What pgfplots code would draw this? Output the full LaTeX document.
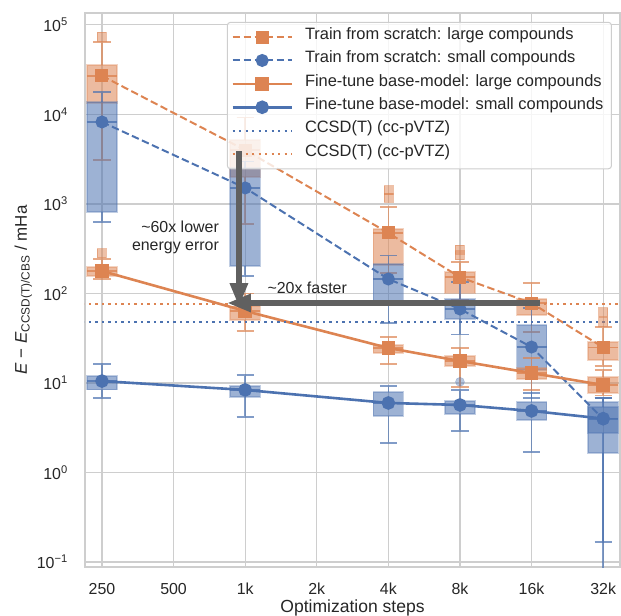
\documentclass[border=0pt]{standalone}
\usepackage{fontspec}
\setmainfont{Liberation Sans}
\usepackage{pgfplots}
\pgfplotsset{compat=1.18}
\usepgfplotslibrary{statistics}
\usetikzlibrary{arrows.meta}
\definecolor{cblue}{RGB}{76,114,176}
\definecolor{corange}{RGB}{221,132,82}
\definecolor{gridgray}{RGB}{206,206,206}
\definecolor{arrgray}{RGB}{96,96,96}
\definecolor{txt}{RGB}{38,38,38}

\pgfplotsset{
  bx/.style={forget plot, solid, boxplot/draw direction=y,
    boxplot/box extend=0.42, boxplot/whisker extend=0.24,
    boxplot/every box/.style={draw=#1, draw opacity=0.35, fill=#1, fill opacity=0.55, line width=1.4bp},
    boxplot/every whisker/.style={draw=#1, draw opacity=0.7, line width=1.5bp},
    boxplot/every median/.style={draw=#1, draw opacity=0.8, line width=1.5bp}},
  bxo/.style={bx=corange},
  bxb/.style={bx=cblue},
  outo/.style={forget plot, only marks, color=corange, mark=square*, mark size=4.5bp,
    mark options={draw=corange, fill=corange, opacity=0.5}},
  outb/.style={forget plot, only marks, color=cblue, mark=*, mark size=4.5bp,
    mark options={draw=cblue, fill=cblue, opacity=0.4}},
}

\begin{document}
\begin{tikzpicture}[font=\fontsize{16}{18}\selectfont]
\begin{axis}[
    scale only axis,
    width=535bp, height=554bp,
    xmin=-0.237, xmax=7.235,
    ymode=log, ymin=0.0879, ymax=1.36e5,
    xtick={0,1,2,3,4,5,6,7},
    xticklabels={250,500,1k,2k,4k,8k,16k,32k},
    ytick={0.1,1,10,100,1000,10000,100000},
    yticklabels={10\textsuperscript{−1},10\textsuperscript{0},10\textsuperscript{1},10\textsuperscript{2},10\textsuperscript{3},10\textsuperscript{4},10\textsuperscript{5}},
    major tick length=0pt, minor tick length=0pt,
    grid=major,
    major grid style={gridgray, line width=1.1bp},
    axis line style={gridgray, line width=1.3bp},
    tick label style={text=txt},
    xticklabel style={anchor=base, yshift=-27bp},
    yticklabel style={anchor=east, inner xsep=0pt, xshift=-17bp},
    xlabel={Optimization steps},
    ylabel={\textit{E} − \textit{E}\textsubscript{CCSD(T)/CBS} / mHa},
    every axis x label/.style={at={(rel axis cs:0.5,0)}, anchor=base, yshift=-45.5bp, text=txt,
      font=\fontsize{17.6}{20}\selectfont},
    every axis y label/.style={at={(rel axis cs:0,0.5)}, xshift=-58bp, rotate=90, anchor=base, text=txt,
      font=\fontsize{17}{20}\selectfont},
    legend cell align=left,
    legend style={at={(rel axis cs:0.985,0.984)}, anchor=north east,
      draw=gridgray, line width=1bp, rounded corners=3bp,
      fill=white, fill opacity=0.8, text opacity=1, draw opacity=1, text=txt,
      font=\fontsize{16.5}{18}\selectfont,
      inner xsep=4bp, inner ysep=3bp, row sep=0bp,
      nodes={inner ysep=0bp, inner xsep=4bp, text height=14bp, text depth=9.4bp}},
    legend image post style={fill opacity=1, draw opacity=1},
    legend image code/.code={\draw[mark repeat=2,mark phase=2,#1] plot coordinates {(0bp,0bp) (29.5bp,0bp) (59bp,0bp)};
      \path (67bp,0bp);},
]
% train from scratch, large compounds
\addplot[bxo, boxplot prepared={draw position=0, lower whisker=3100, lower quartile=13400, median=27000, upper quartile=35700, upper whisker=64900}] coordinates {};
\addplot[bxo, boxplot prepared={draw position=2, lower whisker=600, lower quartile=2000, median=4000, upper quartile=5190, upper whisker=9300}] coordinates {};
\addplot[bxo, boxplot prepared={draw position=4, lower whisker=170, lower quartile=208, median=474, upper quartile=525, upper whisker=925}] coordinates {};
\addplot[bxo, boxplot prepared={draw position=5, lower whisker=85, lower quartile=100, median=152, upper quartile=174, upper whisker=226}] coordinates {};
\addplot[bxo, boxplot prepared={draw position=6, lower whisker=37, lower quartile=57.6, median=78, upper quartile=87, upper whisker=131}] coordinates {};
\addplot[bxo, boxplot prepared={draw position=7, lower whisker=15.5, lower quartile=18.1, median=25, upper quartile=28.7, upper whisker=42}] coordinates {};
\addplot[outo] coordinates {(0,73500) (4,1170) (4,1430) (5,269) (5,306) (7,48) (7,62)};
% train from scratch, small compounds
\addplot[bxb, boxplot prepared={draw position=0, lower whisker=630, lower quartile=815, median=8240, upper quartile=13800, upper whisker=17800}] coordinates {};
\addplot[bxb, boxplot prepared={draw position=2, lower whisker=157, lower quartile=203, median=1510, upper quartile=2520, upper whisker=3000}] coordinates {};
\addplot[bxb, boxplot prepared={draw position=4, lower whisker=46.8, lower quartile=80, median=145, upper quartile=214, upper whisker=264}] coordinates {};
\addplot[bxb, boxplot prepared={draw position=5, lower whisker=35, lower quartile=52, median=67, upper quartile=87, upper whisker=135}] coordinates {};
\addplot[bxb, boxplot prepared={draw position=6, lower whisker=6.8, lower quartile=14, median=25.2, upper quartile=44.5, upper whisker=69}] coordinates {};
\addplot[bxb, boxplot prepared={draw position=7, lower whisker=0.08, lower quartile=2.76, median=3.96, upper quartile=6.14, upper whisker=6.8}] coordinates {};
% fine-tune, large compounds
\addplot[bxo, boxplot prepared={draw position=0, lower whisker=145, lower quartile=157, median=178, upper quartile=198, upper whisker=243}] coordinates {};
\addplot[bxo, boxplot prepared={draw position=2, lower whisker=38, lower quartile=50.6, median=63.7, upper quartile=72, upper whisker=100}] coordinates {};
\addplot[bxo, boxplot prepared={draw position=4, lower whisker=16.3, lower quartile=21.6, median=24.6, upper quartile=26.6, upper whisker=32.7}] coordinates {};
\addplot[bxo, boxplot prepared={draw position=5, lower whisker=9.0, lower quartile=15.5, median=17.6, upper quartile=20, upper whisker=24.5}] coordinates {};
\addplot[bxo, boxplot prepared={draw position=6, lower whisker=8.3, lower quartile=11.1, median=12.9, upper quartile=14.7, upper whisker=19}] coordinates {};
\addplot[bxo, boxplot prepared={draw position=7, lower whisker=7.2, lower quartile=7.7, median=9.5, upper quartile=11.7, upper whisker=14}] coordinates {};
\addplot[outo] coordinates {(0,283)};
% fine-tune, small compounds
\addplot[bxb, boxplot prepared={draw position=0, lower whisker=6.8, lower quartile=8.4, median=10.5, upper quartile=12, upper whisker=16.3}] coordinates {};
\addplot[bxb, boxplot prepared={draw position=2, lower whisker=4.17, lower quartile=7.0, median=8.36, upper quartile=9.25, upper whisker=12.3}] coordinates {};
\addplot[bxb, boxplot prepared={draw position=4, lower whisker=2.14, lower quartile=4.27, median=5.98, upper quartile=7.9, upper whisker=9.25}] coordinates {};
\addplot[bxb, boxplot prepared={draw position=5, lower whisker=2.91, lower quartile=4.5, median=5.68, upper quartile=6.3, upper whisker=8.3}] coordinates {};
\addplot[bxb, boxplot prepared={draw position=6, lower whisker=1.69, lower quartile=3.86, median=4.87, upper quartile=6.14, upper whisker=7.7}] coordinates {};
\addplot[bxb, boxplot prepared={draw position=7, lower whisker=0.167, lower quartile=1.65, median=4.0, upper quartile=5.4, upper whisker=6.8}] coordinates {};
\addplot[outb] coordinates {(5,10.3)};

% mean curves
\addplot[corange, line width=2bp, dash pattern=on 7.5bp off 3.5bp, mark=square*, mark size=5.5bp, mark options={solid}]
  coordinates {(0,27000) (2,4000) (4,474) (5,152) (6,78) (7,25)};
\addlegendentry{Train from scratch: large compounds}
\addplot[cblue, line width=2bp, dash pattern=on 7.5bp off 3.5bp, mark=*, mark size=5.5bp, mark options={solid}]
  coordinates {(0,8240) (2,1510) (4,145) (5,67) (6,25.2) (7,3.96)};
\addlegendentry{Train from scratch: small compounds}
\addplot[corange, line width=2.6bp, solid, mark=square*, mark size=5.5bp]
  coordinates {(0,178) (2,63.7) (4,24.6) (5,17.6) (6,12.9) (7,9.5)};
\addlegendentry{Fine-tune base-model: large compounds}
\addplot[cblue, line width=2.6bp, solid, mark=*, mark size=5.5bp]
  coordinates {(0,10.5) (2,8.36) (4,5.98) (5,5.68) (6,4.87) (7,4.0)};
\addlegendentry{Fine-tune base-model: small compounds}
% reference levels
\addplot[cblue, line width=2.2bp, dash pattern=on 2.2bp off 4.3bp]
  coordinates {(-1,48.1) (8,48.1)};
\addlegendentry{CCSD(T) (cc-pVTZ)}
\addplot[corange, line width=2.2bp, dash pattern=on 2.2bp off 4.3bp]
  coordinates {(-1,76.4) (8,76.4)};
\addlegendentry{CCSD(T) (cc-pVTZ)}

\coordinate (bl) at (rel axis cs:0,0);
\coordinate (tr) at (rel axis cs:1,1);
\coordinate (va) at (axis cs:1.913,3900);
\coordinate (vb) at (axis cs:1.913,70.6);
\coordinate (ha) at (axis cs:6.117,78.3);
\coordinate (hb) at (axis cs:1.746,78.3);
\coordinate (t1) at (axis cs:1.635,480);
\coordinate (t2) at (axis cs:2.31,100);
\end{axis}
\draw[arrgray, line width=6bp, -{Triangle[length=24bp 0, width=17bp 0]}] (va) -- (vb);
\draw[arrgray, line width=6bp, -{Triangle[length=24bp 0, width=17bp 0]}] (ha) -- (hb);
\node[anchor=base east, inner sep=0pt, text=txt] at (t1) {\textasciitilde60x lower};
\node[anchor=base east, inner sep=0pt, text=txt] at ([yshift=-18bp]t1) {energy error};
\node[anchor=base west, inner sep=0pt, text=txt] at (t2) {\textasciitilde20x faster};
\pgfresetboundingbox
\path[use as bounding box] ([xshift=-85bp,yshift=-49bp]bl) rectangle ([xshift=1bp,yshift=13bp]tr);
\end{tikzpicture}
\end{document}
